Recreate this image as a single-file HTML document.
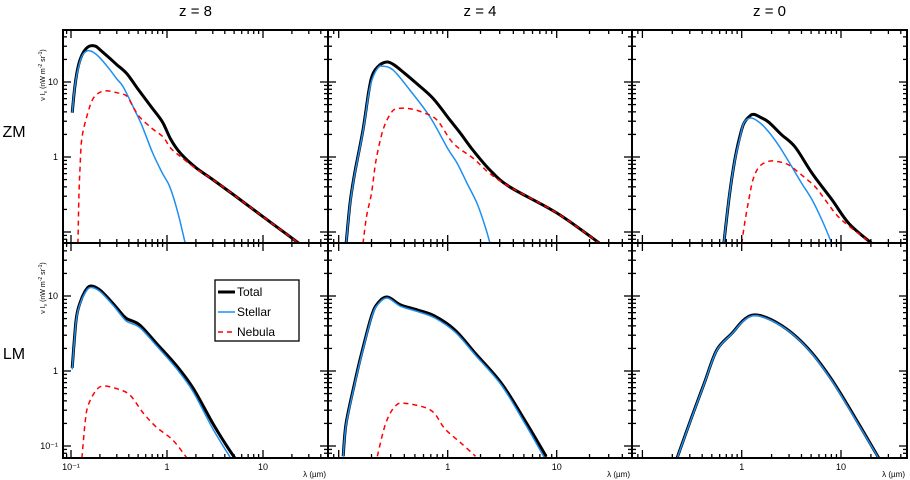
<!DOCTYPE html>
<html><head><meta charset="utf-8"><style>
html,body{margin:0;padding:0;background:#fff;}
svg{display:block;font-family:"Liberation Sans",sans-serif;}
</style></head><body>
<svg id="c" width="910" height="480" viewBox="0 0 910 480" xmlns="http://www.w3.org/2000/svg"></svg>
<script>
// ---- data (wavelength in micron, nu I_nu in nW m^-2 sr^-1) ----
const zm8TotalLam=[0.103,0.11,0.12,0.135,0.155,0.18,0.2,0.25,0.3,0.38,0.5,0.7,0.9,1.1,1.4,2,3,5,10,20,30];
const zm8TotalVal=[3.9,9,17,25,30,30,27,21,17,13,8,4.5,2.9,1.7,1.1,0.72,0.5,0.31,0.16,0.083,0.056];
const zm8StellarLam=[0.103,0.11,0.12,0.13,0.147,0.17,0.2,0.25,0.3,0.35,0.45,0.55,0.71,0.9,1.07,1.3,1.55];
const zm8StellarVal=[3.9,9,16,22,26,25,21,15,11,8.6,4.5,2.6,1.13,0.6,0.4,0.18,0.07];
const zm8NebulaLam=[0.118,0.121,0.124,0.13,0.15,0.17,0.2,0.24,0.3,0.38,0.45,0.52,0.7,0.91,1.1,1.4,2,3,5,10,20,30];
const zm8NebulaVal=[0.07,0.3,0.7,1.8,3.9,6,7.3,7.6,7.2,6.5,4.5,3.4,2.4,1.85,1.3,1.0,0.7,0.5,0.31,0.16,0.083,0.056];

const zm4TotalLam=[0.117,0.127,0.14,0.167,0.19,0.207,0.24,0.28,0.32,0.39,0.5,0.73,1.05,1.3,1.7,2.44,3.7,10,25];
const zm4TotalVal=[0.07,0.24,0.6,2.3,8,13,17,18.5,17,13.6,10,6.1,3.1,2.1,1.24,0.67,0.4,0.18,0.07];
const zm4StellarLam=[0.117,0.127,0.14,0.167,0.19,0.207,0.23,0.25,0.315,0.45,0.69,1.0,1.22,1.5,1.86,2.2,2.45];
const zm4StellarVal=[0.07,0.23,0.58,2.2,7.5,11.7,15.5,16.3,14.5,7.8,3.4,1.3,0.83,0.45,0.24,0.12,0.07];
const zm4NebulaLam=[0.167,0.18,0.2,0.22,0.255,0.3,0.34,0.45,0.6,0.8,1.12,1.7,2.44,3.7,10,25];
const zm4NebulaVal=[0.07,0.16,0.33,0.9,2.3,3.8,4.4,4.4,3.9,3.1,1.53,0.97,0.6,0.4,0.18,0.07];

const zm0TotalLam=[0.66,0.75,0.85,0.95,1.05,1.2,1.33,1.6,1.88,2.5,3.45,5.1,8.1,12,20.5];
const zm0TotalVal=[0.07,0.3,0.9,1.8,2.8,3.5,3.7,3.3,2.9,2.0,1.36,0.61,0.27,0.13,0.07];
const zm0StellarLam=[0.66,0.75,0.85,0.95,1.05,1.21,1.4,1.7,2.3,3.2,4,5.1,6.5,8.1];
const zm0StellarVal=[0.07,0.3,0.88,1.7,2.84,3.3,3.1,2.5,1.5,0.74,0.45,0.27,0.14,0.07];
const zm0NebulaLam=[1.0,1.08,1.18,1.3,1.5,1.88,2.4,3.0,4.05,5.5,6.9,9,12,20.5];
const zm0NebulaVal=[0.07,0.14,0.27,0.5,0.74,0.88,0.86,0.78,0.57,0.4,0.27,0.17,0.12,0.07];

const lm8TotalLam=[0.103,0.113,0.124,0.14,0.16,0.2,0.27,0.35,0.39,0.52,0.77,1.24,1.87,3.0,4,5.1];
const lm8TotalVal=[1.1,4.8,8.1,11.5,13.6,12,8.1,5.5,4.9,4.1,2.36,1.2,0.59,0.2,0.11,0.069];
const lm8StellarLam=[0.103,0.113,0.124,0.14,0.16,0.2,0.27,0.35,0.39,0.52,0.77,1.24,1.87,3.0,4.6];
const lm8StellarVal=[1.05,4.6,7.8,11,13,11.5,7.7,5.1,4.5,3.8,2.2,1.1,0.53,0.17,0.069];
const lm8NebulaLam=[0.13,0.14,0.15,0.18,0.215,0.3,0.41,0.56,0.77,1.15,1.6];
const lm8NebulaVal=[0.069,0.2,0.34,0.54,0.63,0.58,0.48,0.28,0.18,0.12,0.07];

const lm4TotalLam=[0.11,0.117,0.14,0.16,0.2,0.23,0.28,0.37,0.53,0.76,1.17,1.78,3.1,5.1,8];
const lm4TotalVal=[0.073,0.2,0.69,1.58,5.4,8.1,9.7,7.6,6.5,5.4,3.5,1.74,0.69,0.22,0.073];
const lm4StellarLam=[0.11,0.117,0.14,0.16,0.2,0.23,0.28,0.37,0.53,0.76,1.17,1.78,3.1,5.1,7.7];
const lm4StellarVal=[0.072,0.19,0.66,1.5,5.2,7.8,9.4,7.3,6.2,5.1,3.3,1.65,0.65,0.2,0.07];
const lm4NebulaLam=[0.226,0.27,0.33,0.41,0.7,0.94,1.32,1.8];
const lm4NebulaVal=[0.073,0.2,0.34,0.37,0.3,0.17,0.11,0.073];

const lm0TotalLam=[0.223,0.316,0.42,0.56,0.8,1.05,1.36,2.0,3.2,5.1,8.1,12.9,24];
const lm0TotalVal=[0.069,0.25,0.69,1.9,3.2,4.8,5.6,4.8,3.2,1.74,0.76,0.28,0.069];
const lm0StellarLam=[0.223,0.316,0.42,0.56,0.8,1.05,1.36,2.0,3.2,5.1,8.1,12.9,24];
const lm0StellarVal=[0.068,0.245,0.68,1.87,3.15,4.7,5.5,4.7,3.15,1.7,0.74,0.27,0.068];
const lm0NebulaLam=[];
const lm0NebulaVal=[];

const colTitles=["z = 8","z = 4","z = 0"];
const rowTitles=["ZM","LM"];
const xTickLabels=["10\u207B\u00B9","1","10"];
const xTickVals=[0.1,1,10];
const yTickValsTop=[10,1];
const yTickLabelsTop=["10","1"];
const yTickValsBot=[10,1,0.1];
const yTickLabelsBot=["10","1","10\u207B\u00B9"];

// ---- layout ----
const cols=[{x0:63,x1:328,xa:167,dec:96},{x0:328,x1:632,xa:447.7,dec:109},{x0:632,x1:907,xa:741.7,dec:99.3}];
const rows=[{y0:30,y1:243,ya:157,dec:75},{y0:243,y1:458,ya:371,dec:75}];
const panels=[
 [[zm8TotalLam,zm8TotalVal],[zm8StellarLam,zm8StellarVal],[zm8NebulaLam,zm8NebulaVal]],
 [[zm4TotalLam,zm4TotalVal],[zm4StellarLam,zm4StellarVal],[zm4NebulaLam,zm4NebulaVal]],
 [[zm0TotalLam,zm0TotalVal],[zm0StellarLam,zm0StellarVal],[zm0NebulaLam,zm0NebulaVal]],
 [[lm8TotalLam,lm8TotalVal],[lm8StellarLam,lm8StellarVal],[lm8NebulaLam,lm8NebulaVal]],
 [[lm4TotalLam,lm4TotalVal],[lm4StellarLam,lm4StellarVal],[lm4NebulaLam,lm4NebulaVal]],
 [[lm0TotalLam,lm0TotalVal],[lm0StellarLam,lm0StellarVal],[lm0NebulaLam,lm0NebulaVal]]
];
const panelNames=["zm-z8","zm-z4","zm-z0","lm-z8","lm-z4","lm-z0"];
const NS="http://www.w3.org/2000/svg";
const svg=document.getElementById('c');
function mk(tag,attrs,parent){const e=document.createElementNS(NS,tag);for(const k in attrs)e.setAttribute(k,attrs[k]);(parent||svg).appendChild(e);return e;}
function xScale(c,l){return c.xa+Math.log10(l)*c.dec;}
function yScale(r,v){return r.ya-Math.log10(v)*r.dec;}
function smoothPath(P){
  let d='M'+P[0][0].toFixed(1)+','+P[0][1].toFixed(1);
  for(let i=0;i<P.length-1;i++){
    const p0=P[Math.max(0,i-1)],p1=P[i],p2=P[i+1],p3=P[Math.min(P.length-1,i+2)];
    const c1x=p1[0]+(p2[0]-p0[0])/6,c1y=p1[1]+(p2[1]-p0[1])/6;
    const c2x=p2[0]-(p3[0]-p1[0])/6,c2y=p2[1]-(p3[1]-p1[1])/6;
    d+=' C'+c1x.toFixed(1)+','+c1y.toFixed(1)+' '+c2x.toFixed(1)+','+c2y.toFixed(1)+' '+p2[0].toFixed(1)+','+p2[1].toFixed(1);
  }
  return d;
}
const defs=mk('defs',{});
const styles=[{stroke:"#000",w:3,dash:null,n:"total"},{stroke:"#1e8ff0",w:1.5,dash:null,n:"stellar"},{stroke:"#ff0000",w:1.5,dash:"5,4",n:"nebula"}];

for(let ri=0;ri<2;ri++)for(let ci=0;ci<3;ci++){
  const c=cols[ci],r=rows[ri],pi=ri*3+ci;
  const g=mk('g',{});
  
  
  const cp=mk('clipPath',{id:'cp'+pi},defs);
  mk('rect',{x:c.x0,y:r.y0,width:c.x1-c.x0,height:r.y1-r.y0},cp);
  [0,1,2].forEach(si=>{
    const [L,V]=panels[pi][si];
    if(!L.length)return;
    const pts=L.map((l,i)=>[xScale(c,l),yScale(r,V[i])]);
    const s=styles[si];
    const p=mk('path',{d:smoothPath(pts),fill:'none',stroke:s.stroke,'stroke-width':s.w,'stroke-linejoin':'round','clip-path':'url(#cp'+pi+')'},g);
    if(s.dash)p.setAttribute('stroke-dasharray',s.dash);
    
    
  });
  const tg=mk('g',{stroke:'#000','stroke-width':1.3},g);
  
  
  for(let e=-2;e<=2;e++)for(let m=1;m<=9;m++){
    const l=m*Math.pow(10,e),x=xScale(c,l);
    if(x<=c.x0+1||x>=c.x1-1)continue;
    const len=m===1?8:4;
    mk('line',{x1:x,x2:x,y1:r.y1,y2:r.y1-len},tg);
    mk('line',{x1:x,x2:x,y1:r.y0,y2:r.y0+len},tg);
  }
  for(let e=-2;e<=2;e++)for(let m=1;m<=9;m++){
    const v=m*Math.pow(10,e),y=yScale(r,v);
    if(y<=r.y0+1||y>=r.y1-1)continue;
    const len=m===1?8:4;
    mk('line',{x1:c.x0,x2:c.x0+len,y1:y,y2:y},tg);
    mk('line',{x1:c.x1,x2:c.x1-len,y1:y,y2:y},tg);
  }
  const fr=mk('rect',{x:c.x0,y:r.y0,width:c.x1-c.x0,height:r.y1-r.y0,fill:'none',stroke:'#000','stroke-width':2},g);
  
  
  if(ri===1){
    xTickVals.forEach((v,i)=>{
      if(ci>0&&i===0)return;
      const t=mk('text',{x:xScale(c,v),y:470,'font-size':9,'text-anchor':'middle'},g);
      t.textContent=xTickLabels[i];
      
      
    });
    const xt=mk('text',{x:c.x1-2,y:477,'font-size':8,'text-anchor':'end'},g);
    xt.textContent="\u03BB (\u00B5m)";
    
    
  }
  if(ci===0){
    const vals=ri===0?yTickValsTop:yTickValsBot, labs=ri===0?yTickLabelsTop:yTickLabelsBot;
    vals.forEach((v,i)=>{
      const t=mk('text',{x:58,y:yScale(r,v)+3,'font-size':9,'text-anchor':'end'},g);
      t.textContent=labs[i];
      
      
    });
    const yc=r.y0+45;
    const yt=mk('text',{x:45,y:yc,'font-size':7,'text-anchor':'middle',transform:'rotate(-90 45 '+yc+')'},g);
    yt.innerHTML='\u03BD I<tspan dy="2" font-size="5">\u03BD</tspan><tspan dy="-2"> (nW m</tspan><tspan dy="-3" font-size="5">-2</tspan><tspan dy="3"> sr</tspan><tspan dy="-3" font-size="5">-1</tspan><tspan dy="3">)</tspan>';
    
    
    const rt=mk('text',{x:14,y:r.y0+(ri===0?107:116),'font-size':16,'text-anchor':'middle'},g);
    rt.textContent=rowTitles[ri];
    
    
  }
  if(ri===0){
    const ct=mk('text',{x:(c.x0+c.x1)/2,y:16,'font-size':15,'text-anchor':'middle'},g);
    ct.textContent=colTitles[ci];
    
    
  }
}
const lg=mk('g',{});


mk('rect',{x:215,y:280,width:84,height:61,fill:'#fff',stroke:'#000','stroke-width':1.3},lg);
const legNames=["Total","Stellar","Nebula"];
styles.forEach((s,i)=>{
  const y=292+i*20;
  const ln=mk('line',{x1:218,x2:235,y1:y,y2:y,stroke:s.stroke,'stroke-width':s.w},lg);
  if(s.dash)ln.setAttribute('stroke-dasharray','5,4');
  const t=mk('text',{x:237,y:y+4,'font-size':12},lg);
  t.textContent=legNames[i];
  
  
});
</script>
</body></html>
